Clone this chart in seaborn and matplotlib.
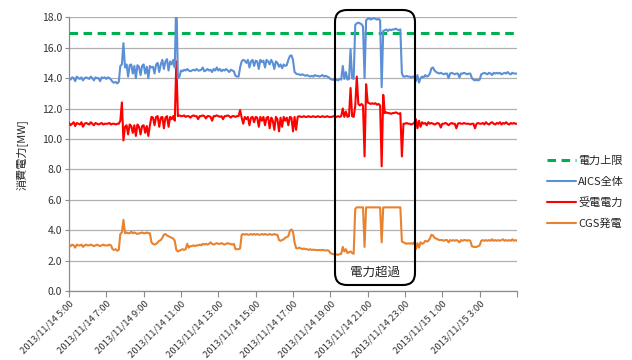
import numpy as np
import pandas as pd
import matplotlib
matplotlib.use("Agg")
import matplotlib.pyplot as plt
from matplotlib.patches import FancyBboxPatch
from matplotlib.lines import Line2D
import seaborn as sns

# 5-minute readings from 2013/11/14 5:00 to 2013/11/15 5:00, one row per hour [MW]
aics_total = [
    14.0, 13.9, 14.05, 14.0, 13.8, 14.1, 14.0, 13.95, 14.05, 13.85, 14.0, 14.05,
    14.0, 13.95, 14.1, 14.0, 13.85, 14.05, 14.0, 14.0, 13.8, 14.05, 14.0, 14.05,
    13.95, 14.05, 14.0, 13.9, 13.75, 13.7, 13.75, 13.65, 13.75, 14.8, 14.9, 16.3,
    14.7, 14.9, 14.1, 14.85, 14.9, 14.3, 14.8, 14.0, 14.85, 14.75, 14.2, 14.8,
    14.9, 14.3, 14.75, 14.0, 14.8, 14.7, 14.75, 14.3, 14.9, 15.0, 14.4, 14.9,
    15.2, 14.6, 15.1, 15.25, 14.5, 15.1, 14.9, 15.2, 14.7, 19.5, 14.0, 14.1,
    14.5, 14.45, 14.55, 14.5, 14.6, 14.5, 14.45, 14.5, 14.55, 14.5, 14.6, 14.5,
    14.5, 14.55, 14.7, 14.45, 14.5, 14.6, 14.5, 14.55, 14.4, 14.6, 14.5, 14.7,
    14.5, 14.6, 14.45, 14.55, 14.5, 14.6, 14.5, 14.4, 14.55, 14.5, 14.45, 14.15,
    14.1, 14.1, 14.7, 15.1, 15.2, 15.15, 15.0, 15.2, 14.7, 15.1, 15.2, 14.8,
    15.15, 15.1, 14.6, 15.2, 15.05, 15.15, 14.7, 15.2, 15.1, 14.9, 15.2, 15.0,
    14.6, 15.1, 15.0, 14.75, 14.9, 14.65, 14.9, 14.8, 14.85, 15.2, 15.45, 15.5,
    15.2, 14.4, 14.3, 14.25, 14.25, 14.2, 14.25, 14.2, 14.15, 14.2, 14.15, 14.1,
    14.15, 14.1, 14.2, 14.15, 14.15, 14.1, 14.15, 14.2, 14.1, 14.15, 14.1, 14.05,
    13.95, 13.9, 13.9, 13.85, 13.9, 13.85, 13.95, 13.9, 14.8, 13.95, 14.4, 13.9,
    13.95, 15.9, 14.0, 13.95, 17.5, 17.6, 17.65, 17.6, 17.55, 17.4, 14.0, 17.8,
    17.9, 17.95, 17.85, 17.9, 17.95, 17.9, 17.85, 17.9, 17.8, 13.4, 17.1, 17.15,
    17.2, 17.1, 17.2, 17.15, 17.2, 17.2, 17.25, 17.2, 17.15, 17.2, 14.3, 14.1,
    14.1, 14.15, 14.1, 14.1, 14.05, 14.1, 14.1, 13.8, 14.2, 13.7, 14.0, 14.1,
    14.05, 14.2, 14.1, 14.15, 14.3, 14.65, 14.7, 14.5, 14.4, 14.35, 14.3, 14.35,
    14.3, 14.25, 14.3, 14.3, 14.0, 14.3, 14.35, 14.3, 14.25, 14.3, 14.3, 14.05,
    14.3, 14.3, 14.35, 14.3, 14.25, 14.3, 14.3, 14.0, 13.9, 13.85, 13.9, 13.85,
    13.9, 14.25, 14.3, 14.35, 14.3, 14.25, 14.35, 14.3, 14.2, 14.35, 14.3, 14.35,
    14.3, 14.35, 14.25, 14.3, 14.35, 14.3, 14.4, 14.3, 14.25, 14.35, 14.3, 14.3,
    14.3,
]

received_power = [
    11.05, 10.9, 11.0, 11.1, 10.85, 11.05, 11.0, 10.95, 11.1, 10.8, 11.0, 11.05,
    11.0, 10.95, 11.1, 11.0, 10.9, 11.05, 11.0, 10.95, 11.0, 11.05, 10.95, 11.0,
    11.0, 11.0, 11.05, 10.95, 11.0, 11.0, 10.95, 11.0, 11.0, 11.2, 12.4, 9.9,
    10.8, 10.9, 10.3, 10.95, 10.85, 10.4, 10.9, 10.2, 10.95, 10.8, 10.3, 10.85,
    10.9, 10.4, 10.85, 10.2, 10.9, 11.45, 11.4, 10.9, 11.45, 11.5, 10.8, 11.4,
    11.45, 10.7, 11.4, 11.5, 10.8, 11.45, 11.3, 11.5, 11.2, 15.1, 11.5, 11.55,
    11.5, 11.5, 11.55, 11.45, 11.5, 11.5, 11.4, 11.5, 11.55, 11.5, 11.5, 11.3,
    11.5, 11.5, 11.55, 11.5, 11.35, 11.5, 11.5, 11.45, 11.2, 11.5, 11.5, 11.55,
    11.5, 11.45, 11.5, 11.3, 11.5, 11.5, 11.55, 11.5, 11.4, 11.5, 11.5, 11.45,
    11.5, 11.5, 11.9, 11.4, 11.0, 11.45, 11.3, 11.45, 10.9, 11.4, 11.45, 11.1,
    11.45, 11.4, 10.8, 11.45, 11.2, 11.45, 10.9, 11.4, 11.45, 10.7, 11.4, 11.2,
    10.6, 11.45, 11.3, 10.5, 11.4, 10.8, 11.45, 11.2, 11.4, 10.9, 11.45, 11.4,
    10.5, 11.45, 10.6, 11.45, 11.5, 11.45, 11.45, 11.5, 11.45, 11.45, 11.5, 11.45,
    11.45, 11.5, 11.45, 11.45, 11.5, 11.45, 11.45, 11.5, 11.45, 11.45, 11.5, 11.45,
    11.45, 11.45, 11.5, 11.45, 11.45, 11.5, 11.45, 11.5, 12.0, 11.45, 11.8, 11.45,
    11.5, 13.35, 11.5, 11.45, 12.15, 14.1, 12.3, 12.2, 12.3, 12.2, 8.85, 13.6,
    12.4, 12.35, 12.3, 12.35, 12.3, 12.35, 12.25, 12.3, 12.2, 8.2, 12.9, 11.7,
    11.75, 11.7, 11.7, 11.65, 11.7, 11.7, 11.75, 11.7, 11.65, 11.7, 8.85, 11.0,
    11.0, 11.05, 11.0, 11.0, 10.95, 11.0, 11.05, 11.3, 10.7, 11.2, 10.8, 11.1,
    11.0, 11.05, 10.9, 11.1, 11.0, 11.05, 11.0, 10.95, 11.0, 11.05, 11.0, 10.75,
    11.0, 11.0, 11.05, 11.0, 10.9, 11.0, 11.05, 11.0, 11.0, 10.7, 11.0, 11.05,
    11.0, 11.0, 11.05, 11.0, 11.0, 11.0, 10.95, 11.0, 11.0, 10.7, 11.0, 11.05,
    11.0, 11.0, 11.05, 10.95, 11.1, 11.0, 10.95, 11.05, 11.1, 11.0, 10.95, 11.05,
    11.0, 11.1, 10.95, 11.05, 11.0, 11.1, 11.0, 10.95, 11.05, 11.0, 11.05, 11.0,
    11.0,
]

cgs_generation = [
    3.0, 2.95, 3.05, 3.0, 2.85, 3.05, 3.0, 3.0, 3.05, 2.9, 3.0, 3.05,
    3.0, 3.0, 3.05, 3.0, 2.95, 3.0, 3.05, 3.0, 2.95, 3.0, 3.05, 3.0,
    3.0, 3.0, 3.05, 3.0, 2.75, 2.7, 2.75, 2.65, 2.7, 3.75, 3.85, 4.68,
    3.8, 3.85, 3.8, 3.8, 3.9, 3.8, 3.85, 3.8, 3.75, 3.8, 3.8, 3.85,
    3.8, 3.8, 3.85, 3.8, 3.8, 3.2, 3.1, 3.05, 3.1, 3.2, 3.3, 3.35,
    3.5, 3.7, 3.75, 3.65, 3.6, 3.55, 3.5, 3.45, 3.3, 2.7, 2.6, 2.65,
    2.7, 2.75, 2.7, 2.75, 3.1, 2.85, 2.95, 2.95, 3.0, 2.95, 3.0, 3.0,
    3.05, 3.0, 3.1, 3.05, 3.1, 3.05, 3.1, 3.2, 3.1, 3.05, 3.1, 3.15,
    3.1, 3.1, 3.15, 3.1, 3.05, 3.1, 3.15, 3.1, 3.1, 3.05, 3.1, 2.75,
    2.75, 2.75, 2.8, 3.7, 3.75, 3.7, 3.75, 3.7, 3.7, 3.75, 3.7, 3.75,
    3.7, 3.75, 3.7, 3.7, 3.75, 3.7, 3.75, 3.7, 3.7, 3.75, 3.7, 3.7,
    3.75, 3.7, 3.7, 3.35, 3.3, 3.35, 3.4, 3.5, 3.55, 3.6, 3.95, 4.05,
    3.9, 3.2, 2.82, 2.8, 2.85, 2.8, 2.75, 2.8, 2.75, 2.75, 2.7, 2.75,
    2.7, 2.72, 2.7, 2.7, 2.68, 2.7, 2.68, 2.7, 2.68, 2.66, 2.68, 2.65,
    2.5, 2.45, 2.42, 2.4, 2.4, 2.38, 2.42, 2.45, 2.9, 2.6, 2.75, 2.5,
    2.55, 2.6, 2.5, 2.45, 5.4, 5.5, 5.5, 5.5, 5.5, 5.5, 2.9, 5.5,
    5.5, 5.5, 5.5, 5.5, 5.5, 5.5, 5.5, 5.5, 5.5, 3.2, 5.5, 5.5,
    5.5, 5.5, 5.5, 5.5, 5.5, 5.5, 5.5, 5.5, 5.5, 5.5, 3.25, 3.2,
    3.15, 3.1, 3.15, 3.1, 3.15, 3.1, 3.2, 2.75, 3.15, 2.85, 3.2, 3.1,
    3.15, 3.3, 3.25, 3.3, 3.45, 3.7, 3.65, 3.5, 3.45, 3.4, 3.35, 3.35,
    3.35, 3.3, 3.35, 3.35, 3.2, 3.35, 3.3, 3.35, 3.3, 3.35, 3.3, 3.2,
    3.35, 3.3, 3.35, 3.35, 3.3, 3.35, 3.3, 2.95, 2.9, 2.9, 2.9, 2.95,
    3.0, 3.3, 3.35, 3.3, 3.35, 3.3, 3.35, 3.3, 3.4, 3.3, 3.35, 3.3,
    3.35, 3.3, 3.35, 3.4, 3.3, 3.35, 3.3, 3.35, 3.3, 3.4, 3.3, 3.35,
    3.3,
]

power_limit = 17.0

series_names = ["電力上限", "AICS全体", "受電電力", "CGS発電"]
tick_labels = [
    "2013/11/14 5:00", "2013/11/14 7:00", "2013/11/14 9:00", "2013/11/14 11:00",
    "2013/11/14 13:00", "2013/11/14 15:00", "2013/11/14 17:00", "2013/11/14 19:00",
    "2013/11/14 21:00", "2013/11/14 23:00", "2013/11/15 1:00", "2013/11/15 3:00", "",
]
y_ticks = [0, 2, 4, 6, 8, 10, 12, 14, 16, 18]

times = pd.date_range("2013-11-14 05:00", periods=len(aics_total), freq="5min")
df = pd.DataFrame({
    "time": times,
    "AICS全体": aics_total,
    "受電電力": received_power,
    "CGS発電": cgs_generation,
})

sns.set_theme(style="white")
plt.rcParams["font.family"] = ["Noto Sans CJK JP", "DejaVu Sans"]

fig = plt.figure(figsize=(6.32, 3.6), dpi=100)
ax = fig.add_axes([69 / 632, 1 - 291 / 360, 448 / 632, 273.7 / 360])

colors = {"電力上限": "#00B050", "AICS全体": "#5B8FD6", "受電電力": "#FF0000", "CGS発電": "#E8822F"}

ax.axhline(power_limit, color=colors["電力上限"], lw=2.2,
           linestyle=(0, (2.8, 1.8)), dash_capstyle="butt", zorder=3)
for name in ["CGS発電", "受電電力", "AICS全体"]:
    sns.lineplot(data=df, x="time", y=name, ax=ax, color=colors[name],
                 linewidth=1.5, zorder=4)

ax.set_ylim(0, 18)
ax.set_xlim(times[0], times[-1])
ax.set_yticks(y_ticks)
ax.set_yticklabels([f"{v:.1f}" for v in y_ticks])
xt = pd.date_range("2013-11-14 05:00", periods=len(tick_labels), freq="2h")
ax.set_xticks(xt)
ax.set_xticklabels(tick_labels, rotation=45, ha="right", rotation_mode="anchor")
ax.set_xlabel("")
ax.set_ylabel("消費電力[MW]", fontsize=8, color="#262626", labelpad=10)

ax.grid(axis="y", color="#B0B0B0", linewidth=0.9)
ax.grid(axis="x", visible=False)
for s in ["top", "right"]:
    ax.spines[s].set_visible(False)
for s in ["left", "bottom"]:
    ax.spines[s].set_color("#8C8C8C")
    ax.spines[s].set_linewidth(0.9)
ax.tick_params(axis="x", length=4, width=0.8, color="#8C8C8C", labelsize=6.9,
               labelcolor="#333333", pad=2, bottom=True)
ax.tick_params(axis="y", length=3, width=0.8, color="#8C8C8C", labelsize=7.5,
               labelcolor="#333333", pad=2, left=True)

# Over-limit period highlight
box = FancyBboxPatch((3.35, 0.75), 0.80, 2.75,
                     boxstyle="round,pad=0,rounding_size=0.12",
                     transform=fig.dpi_scale_trans, fill=False,
                     edgecolor="black", linewidth=1.5, zorder=6)
fig.add_artist(box)
fig.text(3.75 / 6.32, 1 - 272 / 360, "電力超過", ha="center", va="center",
         fontsize=9, color="#262626")

handles = [
    Line2D([], [], color=colors["電力上限"], lw=2.2, linestyle=(0, (2.8, 1.8))),
    Line2D([], [], color=colors["AICS全体"], lw=1.5),
    Line2D([], [], color=colors["受電電力"], lw=1.5),
    Line2D([], [], color=colors["CGS発電"], lw=1.5),
]
fig.legend(handles, series_names, loc="upper left",
           bbox_to_anchor=(537 / 632, 1 - 146 / 360), frameon=False,
           fontsize=8, handlelength=2.6, handletextpad=0.2, labelspacing=0.95,
           labelcolor="#262626")

fig.savefig("out.png", dpi=100)
